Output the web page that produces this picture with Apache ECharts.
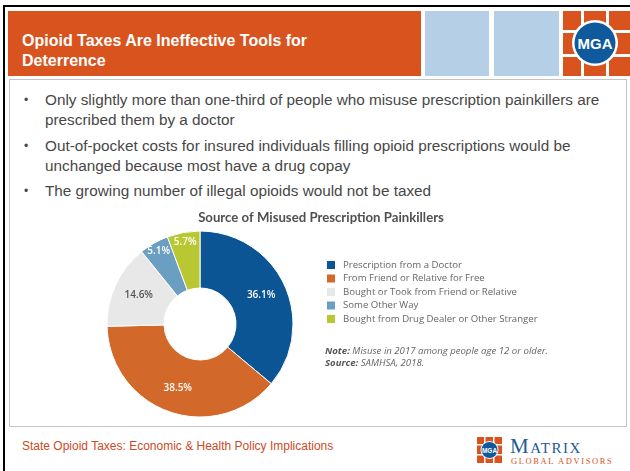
<!DOCTYPE html>
<html>
<head>
<meta charset="utf-8">
<script src="https://cdn.jsdelivr.net/npm/echarts@6/dist/echarts.min.js"></script>
<style>
  html, body { margin: 0; padding: 0; background: #fff; }
  #slide { position: relative; width: 630px; height: 471px; overflow: hidden; font-family: "Liberation Sans", Arial, sans-serif; }
  .abs { position: absolute; }
  #frameTop { left: 3px; top: 5px; width: 627px; height: 2px; background: #000; }
  #frameLeft { left: 3px; top: 5px; width: 2px; height: 466px; background: #000; }
  #band { left: 8px; top: 11px; width: 413px; height: 65px; background: #d9531e; }
  #bandTitle { left: 22px; top: 31px; color: #fff; font-weight: bold; font-size: 16px; line-height: 20px; }
  .blue { top: 11px; height: 65px; background: #b4cfe6; }
  #box { left: 9px; top: 79px; width: 616px; height: 346px; border: 1px solid #c4c4c4; }
  ul { position: absolute; left: 24px; top: 90px; margin: 0; padding: 0; list-style: none; width: 590px; color: #474747; font-size: 15.3px; line-height: 20px; }
  li { position: relative; padding-left: 21px; margin-bottom: 5.5px; }
  li:before { content: "\2022"; position: absolute; left: 0; top: 0; font-size: 12px; }
  #foot { left: 22px; top: 439px; color: #cc4a26; font-size: 12px; }
  #matrix { left: 510px; top: 434px; color: #1d5b97; font-family: "Liberation Serif", serif; font-size: 21px; font-variant: small-caps; letter-spacing: 1.5px; }
  #advisors { left: 511px; top: 456px; color: #d9531e; font-family: "Liberation Serif", serif; font-size: 8.5px; letter-spacing: 1.6px; }
  #chart { position: absolute; left: 0; top: 0; width: 630px; height: 471px; }
</style>
</head>
<body>
<div id="slide">
  <div class="abs" id="frameTop"></div>
  <div class="abs" id="frameLeft"></div>
  <div class="abs" id="band"></div>
  <div class="abs" id="bandTitle">Opioid Taxes Are Ineffective Tools for<br>Deterrence</div>
  <div class="abs blue" style="left:425px;width:64px;"></div>
  <div class="abs blue" style="left:494px;width:65px;"></div>
  <svg class="abs" style="left:563px;top:11px;" width="67" height="65">
    <rect x="0" y="0" width="67" height="65" fill="#d9531e"/>
    <rect x="18" y="0" width="3" height="65" fill="#fff"/>
    <rect x="43" y="0" width="3" height="65" fill="#fff"/>
    <rect x="0" y="19" width="67" height="3" fill="#fff"/>
    <rect x="0" y="43" width="67" height="3" fill="#fff"/>
    <circle cx="32" cy="32" r="23" fill="#fff"/>
    <circle cx="32" cy="32" r="20.5" fill="#0f5a9c"/>
    <text x="32" y="38" text-anchor="middle" fill="#fff" font-family="Liberation Sans Narrow, Liberation Sans" font-weight="bold" font-size="15">MGA</text>
  </svg>
  <div class="abs" id="box"></div>
  <ul>
    <li>Only slightly more than one-third of people who misuse prescription painkillers are prescribed them by a doctor</li>
    <li>Out-of-pocket costs for insured individuals filling opioid prescriptions would be unchanged because most have a drug copay</li>
    <li>The growing number of illegal opioids would not be taxed</li>
  </ul>
  <div class="abs" id="foot">State Opioid Taxes: Economic &amp; Health Policy Implications</div>
  <svg class="abs" style="left:477px;top:437px;" width="25" height="26">
    <rect x="0" y="0" width="25" height="26" fill="#d9531e"/>
    <rect x="7" y="0" width="1.5" height="26" fill="#fff"/>
    <rect x="16" y="0" width="1.5" height="26" fill="#fff"/>
    <rect x="0" y="7" width="25" height="1.5" fill="#fff"/>
    <rect x="0" y="17" width="25" height="1.5" fill="#fff"/>
    <circle cx="12.5" cy="13" r="9" fill="#fff"/>
    <circle cx="12.5" cy="13" r="8" fill="#0f5a9c"/>
    <text x="12.5" y="15.5" text-anchor="middle" fill="#fff" font-family="Liberation Sans" font-weight="bold" font-size="6.5">MGA</text>
  </svg>
  <div class="abs" id="matrix">Matrix</div>
  <div class="abs" id="advisors">GLOBAL ADVISORS</div>
  <div id="chart"></div>
</div>
<script>
// 数据
var categories = ['Prescription from a Doctor', 'From Friend or Relative for Free', 'Bought or Took from Friend or Relative', 'Some Other Way', 'Bought from Drug Dealer or Other Stranger'];
var shares = [36.1, 38.5, 14.6, 5.1, 5.7];
var sliceColors = ['#0b5594', '#d2692b', '#e8e8e8', '#6a9fc2', '#b9c832'];
var labelColors = ['#fff', '#fff', '#555', '#fff', '#fff'];

var total = shares.reduce(function(a, b) { return a + b; }, 0);

// small slices get their label pushed toward the outer edge
function midAngle(idx) {
    var before = 0;
    for (var i = 0; i < idx; i++) before += shares[i];
    return (before + shares[idx] / 2) / total * Math.PI * 2;
}

var pieData = categories.map(function(name, i) {
    return {
        name: name,
        value: shares[i],
        itemStyle: { color: sliceColors[i] },
        label: { color: labelColors[i] }
    };
});

var mcharts = echarts.init(document.getElementById('chart'));

var option = {
    animation: false,
    title: {
        text: 'Source of Misused Prescription Painkillers',
        left: 321,
        top: 211,
        textAlign: 'center',
        padding: 0,
        textStyle: {
            fontFamily: 'Lato',
            fontWeight: 'bold',
            fontSize: 13.2,
            color: '#505050'
        }
    },
    legend: {
        orient: 'vertical',
        left: 325,
        top: 259,
        padding: 0,
        icon: 'rect',
        itemWidth: 10,
        itemHeight: 10,
        itemGap: 1.5,
        selectedMode: false,
        textStyle: {
            fontFamily: 'Open Sans',
            fontSize: 9.6,
            lineHeight: 10,
            color: '#666',
            padding: [0, 0, 0, 2]
        },
        data: categories
    },
    graphic: [
        {
            type: 'text',
            left: 325,
            top: 345,
            style: {
                text: '{b|Note:} Misuse in 2017 among people age 12 or older.\n{b|Source:} SAMHSA, 2018.',
                fontFamily: 'Open Sans',
                fontStyle: 'italic',
                fontSize: 9.6,
                lineHeight: 12,
                fill: '#666',
                rich: {
                    b: { fontFamily: 'Open Sans', fontStyle: 'italic', fontWeight: 'bold', fontSize: 9.6, lineHeight: 12, fill: '#555' }
                }
            }
        }
    ],
    series: [
        {
            type: 'pie',
            center: [200, 324],
            radius: [36, 93],
            startAngle: 90,
            clockwise: true,
            itemStyle: { borderColor: '#fff', borderWidth: 1 },
            label: {
                show: true,
                position: 'inside',
                formatter: function(p) { return p.value.toFixed(1) + '%'; },
                fontFamily: 'Open Sans',
                fontWeight: 600,
                fontSize: 10
            },
            labelLine: { show: false },
            labelLayout: function(params) {
                var v = shares[params.dataIndex];
                if (v >= 10) return {};
                var a = midAngle(params.dataIndex);
                return { dx: 16 * Math.sin(a), dy: -16 * Math.cos(a) };
            },
            emphasis: { disabled: true },
            data: pieData
        }
    ]
};

mcharts.setOption(option, true);
</script>
</body>
</html>
